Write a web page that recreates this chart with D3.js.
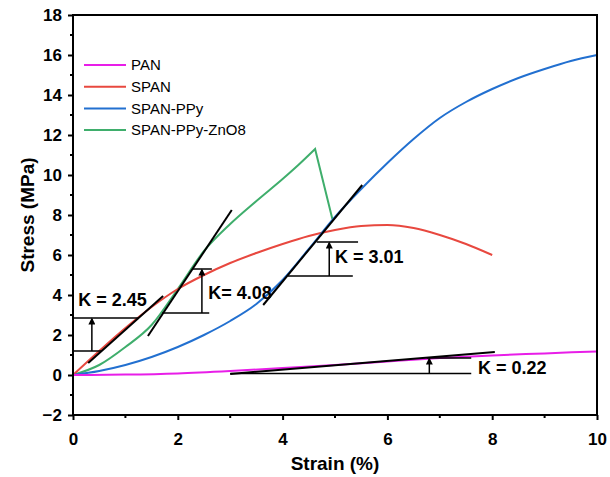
<!DOCTYPE html>
<html>
<head>
<meta charset="utf-8">
<script src="https://cdn.jsdelivr.net/npm/d3@7"></script>
<style>
  body { margin: 0; background: #fff; }
  svg { font-family: "Liberation Sans", Arial, sans-serif; }
</style>
</head>
<body>
<div class="chart"></div>
<script>
// series names + colours
var seriesNames = ["PAN", "SPAN", "SPAN-PPy", "SPAN-PPy-ZnO8"];
var seriesColors = ["#e81ee8", "#e8483f", "#2270d0", "#3fae6c"];

// strain (%) / stress (MPa)
var panX = [0, 1, 2, 3, 4, 5, 6, 7, 8, 9, 10];
var panY = [0, 0.02, 0.08, 0.2, 0.35, 0.5, 0.68, 0.85, 0.98, 1.08, 1.18];

var spanX = [0, 0.5, 1, 1.5, 2, 2.5, 3, 3.5, 4, 4.5, 5, 5.5, 6, 6.5, 7, 7.5, 8];
var spanY = [0, 1.2, 2.35, 3.4, 4.3, 5.0, 5.6, 6.1, 6.55, 6.95, 7.25, 7.45, 7.5, 7.35, 7.0, 6.55, 6.0];

var ppyX = [0, 0.5, 1, 1.5, 2, 2.5, 3, 3.5, 4, 4.5, 5, 5.5, 6, 6.5, 7, 7.5, 8, 8.5, 9, 9.5, 10];
var ppyY = [0, 0.2, 0.5, 0.9, 1.4, 2.0, 2.7, 3.55, 4.75, 6.3, 7.9, 9.3, 10.6, 11.8, 12.85, 13.65, 14.3, 14.85, 15.3, 15.7, 16.0];

// rising part up to the break, then the drop
var znoX = [0, 0.5, 1, 1.5, 2, 2.5, 3, 3.5, 4, 4.3, 4.62];
var znoY = [0, 0.5, 1.4, 2.5, 4.3, 6.2, 7.55, 8.7, 9.8, 10.5, 11.3];
var znoDropX = [4.62, 4.95];
var znoDropY = [11.3, 7.8];

// slope annotations: tangent [x1,y1,x2,y2], base line [x1,x2,y], top line [x1,x2,y], arrow x, label [x,y,text]
var tangents = [[0.29, 0.6, 1.72, 3.95], [1.43, 1.95, 3.03, 8.25], [3.63, 3.5, 5.52, 9.5], [3.0, 0.05, 8.05, 1.15]];
var baseLines = [[0, 0.55, 1.2], [1.7, 2.6, 3.1], [4.1, 5.34, 4.95], [3.0, 7.6, 0.07]];
var topLines = [[0, 1.24, 2.85], [2.27, 2.65, 5.3], [4.65, 5.44, 6.65], [6.75, 7.6, 0.85]];
var arrowX = [0.36, 2.46, 4.89, 6.8];
var kLabels = [[0.1, 3.75, "K = 2.45"], [2.58, 4.12, "K= 4.08"], [5.0, 5.9, "K = 3.01"], [7.73, 0.35, "K = 0.22"]];

var xTicks = [0, 2, 4, 6, 8, 10];
var yTicks = [-2, 0, 2, 4, 6, 8, 10, 12, 14, 16, 18];

var w = 610, h = 477;
var margin = {left: 73, right: 13, top: 15, bottom: 62};

var svg = d3.select(".chart").append("svg")
    .attr("width", w)
    .attr("height", h);

var x = d3.scaleLinear().domain([0, 10]).range([margin.left, w - margin.right]);
var y = d3.scaleLinear().domain([-2, 18]).range([h - margin.bottom, margin.top]);

svg.append("defs").append("marker")
    .attr("id", "arrow")
    .attr("viewBox", "0 0 10 10")
    .attr("refX", 5).attr("refY", 2)
    .attr("markerWidth", 7).attr("markerHeight", 9)
    .attr("markerUnits", "userSpaceOnUse")
    .attr("orient", "0")
    .append("path")
    .attr("d", "M0,10 L5,0 L10,10 Z")
    .attr("fill", "#000");

// curves
var line = d3.line()
    .x(d => x(d[0]))
    .y(d => y(d[1]))
    .curve(d3.curveMonotoneX);

var straight = d3.line()
    .x(d => x(d[0]))
    .y(d => y(d[1]));

var allSeries = [
    d3.zip(panX, panY),
    d3.zip(spanX, spanY),
    d3.zip(ppyX, ppyY),
    d3.zip(znoX, znoY)
];

// green first so the others sit on top
[3, 1, 2, 0].forEach(function(i) {
    var d = line(allSeries[i]);
    if (i == 3) d += straight(d3.zip(znoDropX, znoDropY)).replace("M", "L");
    svg.append("path")
        .attr("d", d)
        .attr("fill", "none")
        .attr("stroke", seriesColors[i])
        .attr("stroke-width", 2)
        .attr("stroke-linejoin", "miter");
});

// annotations
var ann = svg.append("g").attr("stroke", "#000").attr("stroke-width", 2);

tangents.forEach(function(t) {
    ann.append("line")
        .attr("x1", x(t[0])).attr("y1", y(t[1]))
        .attr("x2", x(t[2])).attr("y2", y(t[3]));
});

baseLines.concat(topLines).forEach(function(b) {
    ann.append("line")
        .attr("x1", x(b[0])).attr("x2", x(b[1]))
        .attr("y1", y(b[2])).attr("y2", y(b[2]))
        .attr("stroke-width", 1.5);
});

arrowX.forEach(function(ax, i) {
    ann.append("line")
        .attr("x1", x(ax)).attr("x2", x(ax))
        .attr("y1", y(baseLines[i][2]))
        .attr("y2", y(topLines[i][2]) + 1)
        .attr("stroke-width", 1.5)
        .attr("marker-end", "url(#arrow)");
});

svg.selectAll(".klabel")
    .data(kLabels)
    .enter()
    .append("text")
    .attr("class", "klabel")
    .attr("x", d => x(d[0]))
    .attr("y", d => y(d[1]))
    .attr("dy", "0.35em")
    .attr("font-size", 18)
    .attr("font-weight", "bold")
    .text(d => d[2]);

// frame
svg.append("rect")
    .attr("x", margin.left)
    .attr("y", margin.top)
    .attr("width", w - margin.left - margin.right)
    .attr("height", h - margin.top - margin.bottom)
    .attr("fill", "none")
    .attr("stroke", "#000")
    .attr("stroke-width", 2);

// axes
var axisX = d3.axisBottom(x).tickValues(xTicks).tickSize(5).tickPadding(13);
var gx = svg.append("g")
    .attr("transform", "translate(0," + (h - margin.bottom) + ")")
    .call(axisX);
gx.append("g").selectAll("line")
    .data(d3.range(1, 10, 2))
    .enter().append("line")
    .attr("x1", d => x(d)).attr("x2", d => x(d))
    .attr("y1", 0).attr("y2", 3)
    .attr("stroke", "#000").attr("stroke-width", 2);

var axisY = d3.axisLeft(y).tickValues(yTicks).tickSize(5).tickPadding(6);
var gy = svg.append("g")
    .attr("transform", "translate(" + margin.left + ",0)")
    .call(axisY);
gy.append("g").selectAll("line")
    .data(d3.range(-1, 18, 2))
    .enter().append("line")
    .attr("y1", d => y(d)).attr("y2", d => y(d))
    .attr("x1", 0).attr("x2", -3)
    .attr("stroke", "#000").attr("stroke-width", 2);

[gx, gy].forEach(function(g) {
    g.select(".domain").remove();
    g.selectAll(".tick line").attr("stroke-width", 2);
    g.selectAll(".tick text")
        .attr("font-size", 17)
        .attr("font-weight", "bold")
        .attr("font-family", "'Liberation Sans', Arial, sans-serif")
        .attr("fill", "#000");
});

svg.append("text")
    .attr("x", (margin.left + w - margin.right) / 2)
    .attr("y", 470)
    .attr("text-anchor", "middle")
    .attr("font-size", 19)
    .attr("font-weight", "bold")
    .text("Strain (%)");

svg.append("text")
    .attr("transform", "translate(34," + ((margin.top + h - margin.bottom) / 2) + ") rotate(-90)")
    .attr("text-anchor", "middle")
    .attr("font-size", 19)
    .attr("font-weight", "bold")
    .text("Stress (MPa)");

// legend
var legend = svg.append("g");
seriesNames.forEach(function(name, i) {
    var ly = 65 + i * 21.7;
    legend.append("line")
        .attr("x1", 84).attr("x2", 126)
        .attr("y1", ly).attr("y2", ly)
        .attr("stroke", seriesColors[i])
        .attr("stroke-width", 2);
    legend.append("text")
        .attr("x", 131)
        .attr("y", ly)
        .attr("dy", "0.35em")
        .attr("font-size", 15)
        .text(name);
});
</script>
</body>
</html>
